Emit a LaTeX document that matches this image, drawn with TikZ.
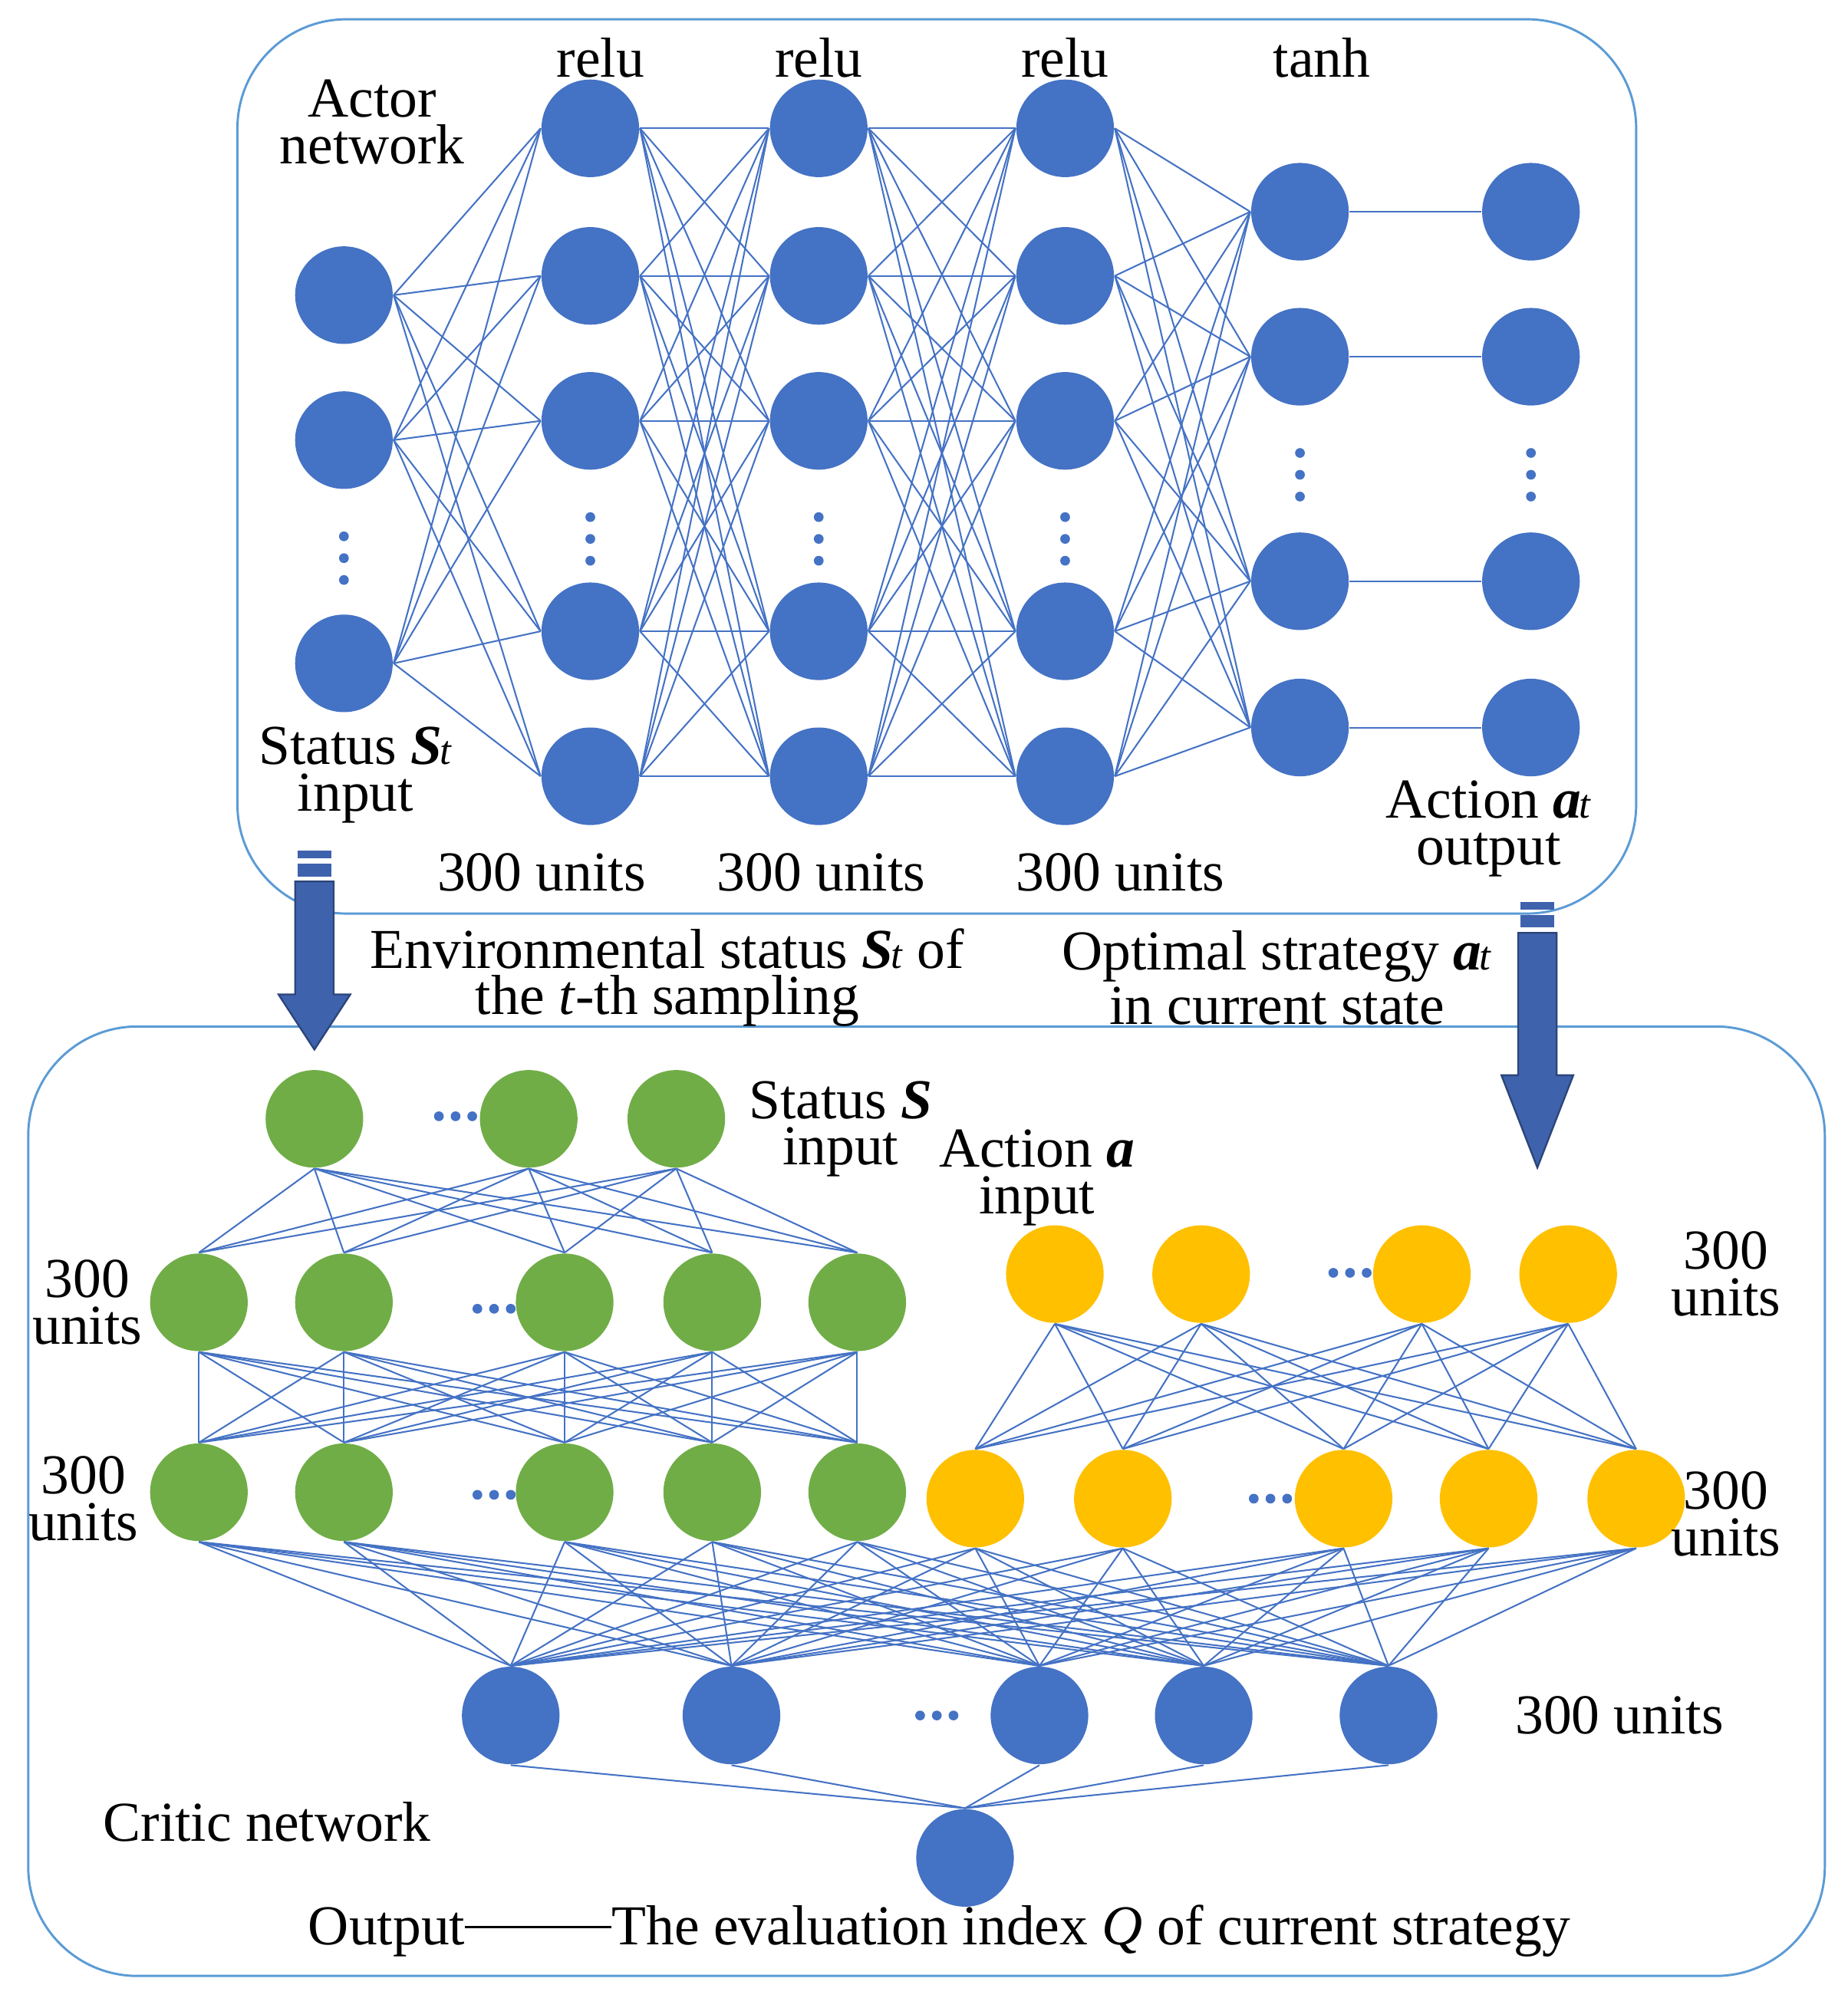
\documentclass[tikz,border=0pt]{standalone}
\usepackage{fontspec}
\setmainfont{Liberation Serif}
\definecolor{nblue}{HTML}{4472C4}
\definecolor{ngreen}{HTML}{70AD47}
\definecolor{nyellow}{HTML}{FFC000}
\definecolor{ablue}{HTML}{3F62AD}
\definecolor{boxline}{HTML}{5B9BD5}
\tikzstyle{neuron} = [circle,minimum size=0.76cm,inner sep=0pt]
\tikzstyle{bluen} = [neuron,fill=nblue]
\tikzstyle{greenn} = [neuron,fill=ngreen]
\tikzstyle{yellown} = [neuron,fill=nyellow]
\tikzstyle{link} = [draw=nblue,line width=0.35pt]
\tikzstyle{lbl} = [font=\fontsize{12.5}{10.3}\selectfont,align=center,inner sep=0pt]
\tikzstyle{netbox} = [draw=boxline,line width=0.5pt,rounded corners=0.85cm]
% three dots, vertical or horizontal
\newcommand{\coldots}[2]{\foreach \k in {-1,0,1} \fill[nblue] (#1,#2+\k*17) circle (0.038cm);}
\newcommand{\rowdots}[2]{\foreach \k in {-1,0,1} \fill[nblue] (#1+\k*13,#2) circle (0.038cm);}
% block arrow: x, top, start of head, tip
\newcommand{\blockarrow}[4]{
  \fill[ablue] (#1-13,#2) rectangle (#1+13,#2+6);
  \fill[ablue] (#1-13,#2+10) rectangle (#1+13,#2+20);
  \fill[ablue,draw=ablue!70!black] (#1-15,#2+24) -- (#1+15,#2+24) -- (#1+15,#3)
    -- (#1+28,#3) -- (#1,#4) -- (#1-28,#3) -- (#1-15,#3) -- cycle;}
\begin{document}
\begin{tikzpicture}[x=0.01cm,y=-0.01cm]
  \useasboundingbox (0,0) rectangle (1440,1565);
  \draw[netbox] (185,15) rectangle (1275,712);
  \draw[netbox] (22,800) rectangle (1422,1540);

  % actor network
  \foreach \y [count=\i] in {230,343,517}
    \node[bluen] (in\i) at (268,\y) {};
  \foreach \l/\x in {1/460,2/638,3/830}
    \foreach \y [count=\i] in {100,215,328,492,605}
      \node[bluen] (h\l-\i) at (\x,\y) {};
  \foreach \y [count=\i] in {165,278,453,567} {
    \node[bluen] (th\i) at (1013,\y) {};
    \node[bluen] (out\i) at (1193,\y) {};
  }
  \foreach \i in {1,2,3}
    \foreach \j in {1,...,5}
      \draw[link] (in\i.east) -- (h1-\j.west);
  \foreach \l/\m in {1/2,2/3}
    \foreach \i in {1,...,5}
      \foreach \j in {1,...,5}
        \draw[link] (h\l-\i.east) -- (h\m-\j.west);
  \foreach \i in {1,...,5}
    \foreach \j in {1,...,4}
      \draw[link] (h3-\i.east) -- (th\j.west);
  \foreach \i in {1,...,4}
    \draw[link] (th\i) -- (out\i);
  \coldots{268}{435}
  \coldots{460}{420} \coldots{638}{420} \coldots{830}{420}
  \coldots{1013}{370} \coldots{1193}{370}

  \node[lbl] at (468,45) {relu};
  \node[lbl] at (638,45) {relu};
  \node[lbl] at (830,45) {relu};
  \node[lbl] at (1030,45) {tanh};
  \node[lbl] at (290,95) {Actor\\network};
  \node[lbl] at (277,604) {Status \textit{\textbf{S}}\kern-0.5pt\textit{\fontsize{9}{9}\selectfont t}\\input};
  \node[lbl] at (422,680) {300 units};
  \node[lbl] at (640,680) {300 units};
  \node[lbl] at (873,680) {300 units};
  \node[lbl] at (1160,646) {Action \textit{\textbf{a}}\kern-0.5pt\textit{\fontsize{9}{9}\selectfont t}\\output};

  % arrows between the networks
  \blockarrow{245}{663}{775}{818}
  \blockarrow{1198}{703}{838}{910}
  \node[lbl] at (520,762) {Environmental status \textit{\textbf{S}}\kern-0.5pt\textit{\fontsize{9}{9}\selectfont t} of\\the \textit{t}-th sampling};
  \node[lbl] at (995,762) {Optimal strategy \textit{\textbf{a}}\kern-0.5pt\textit{\fontsize{9}{9}\selectfont t}\\in current state};

  % critic network
  \foreach \x [count=\i] in {245,412,527}
    \node[greenn] (s\i) at (\x,872) {};
  \foreach \x [count=\i] in {155,268,440,555,668} {
    \node[greenn] (g\i) at (\x,1015) {};
    \node[greenn] (gg\i) at (\x,1163) {};
  }
  \foreach \x [count=\i] in {822,936,1108,1222}
    \node[yellown] (y\i) at (\x,993) {};
  \foreach \x [count=\i] in {760,875,1047,1160,1275}
    \node[yellown] (yy\i) at (\x,1168) {};
  \foreach \x [count=\i] in {398,570,810,938,1082}
    \node[bluen] (c\i) at (\x,1337) {};
  \node[bluen] (q) at (752,1448) {};

  \foreach \i in {1,2,3}
    \foreach \j in {1,...,5}
      \draw[link] (s\i.south) -- (g\j.north);
  \foreach \i in {1,...,5}
    \foreach \j in {1,...,5}
      \draw[link] (g\i.south) -- (gg\j.north);
  \foreach \i in {1,...,4}
    \foreach \j in {1,...,5}
      \draw[link] (y\i.south) -- (yy\j.north);
  \foreach \i in {1,...,5}
    \foreach \j in {1,...,5} {
      \draw[link] (gg\i.south) -- (c\j.north);
      \draw[link] (yy\i.south) -- (c\j.north);
    }
  \foreach \i in {1,...,5}
    \draw[link] (c\i.south) -- (q.north);
  \rowdots{355}{870} \rowdots{385}{1020} \rowdots{385}{1165}
  \rowdots{1052}{992} \rowdots{990}{1168} \rowdots{730}{1337}

  \node[lbl] at (655,880) {Status \textit{\textbf{S}}\\input};
  \node[lbl] at (808,918) {Action \textit{\textbf{a}}\\input};
  \node[lbl] at (68,1015) {300\\units};
  \node[lbl] at (65,1168) {300\\units};
  \node[lbl] at (1345,993) {300\\units};
  \node[lbl] at (1345,1180) {300\\units};
  \node[lbl] at (1262,1337) {300 units};
  \node[lbl] at (208,1420) {Critic network};
  \node[lbl] at (732,1505) {Output\rule[0.3em]{2.6em}{0.5pt}The evaluation index \textit{Q} of current strategy};
\end{tikzpicture}
\end{document}
